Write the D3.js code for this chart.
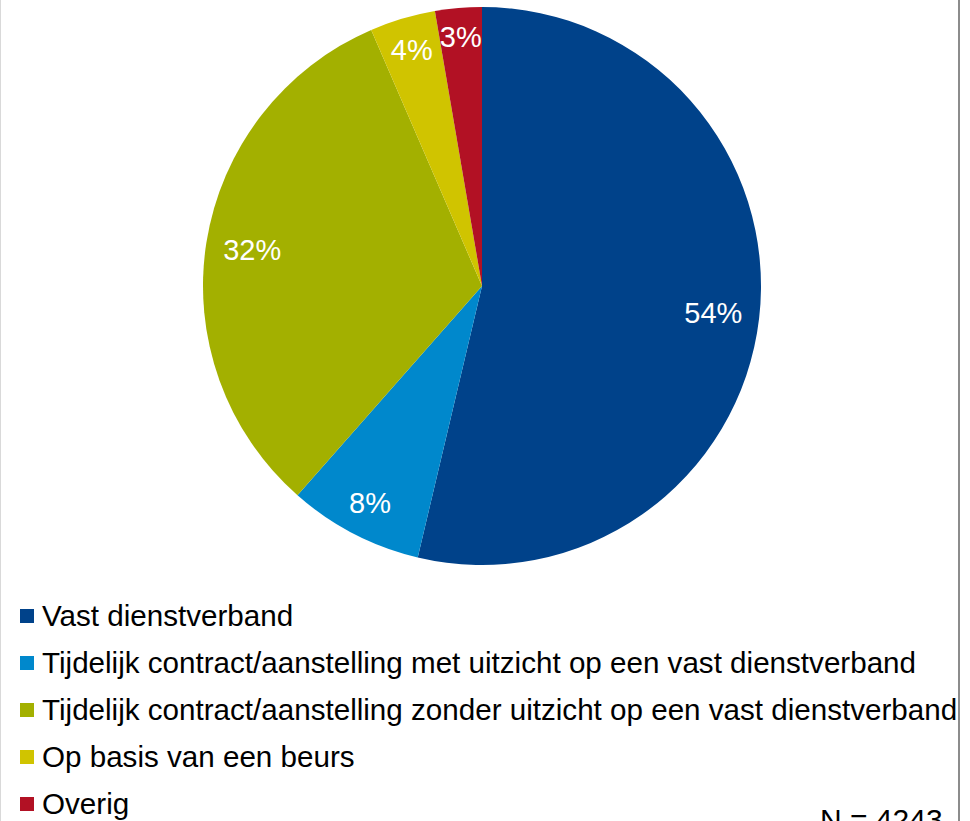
<html lang="nl">
<head>
  <meta charset="UTF-8" />
  <title>Type aanstelling</title>
  <style>
    body { margin: 0; background: #fff; }
    svg { display: block; font-family: "Liberation Sans", Arial, sans-serif; }
    .label { fill: #fff; font-size: 29px; }
    .legend text { fill: #000; font-size: 29.6px; }
  </style>
</head>
<body>
  <svg width="970" height="821"></svg>

  <script src="https://d3js.org/d3.v7.min.js"></script>
  <script>
    const categories = [
      "Vast dienstverband",
      "Tijdelijk contract/aanstelling met uitzicht op een vast dienstverband",
      "Tijdelijk contract/aanstelling zonder uitzicht op een vast dienstverband",
      "Op basis van een beurs",
      "Overig"
    ];
    const values = [53.7, 7.8, 32.0, 3.8, 2.7];
    const labels = ["54%", "8%", "32%", "4%", "3%"];
    const colors = ["#00428a", "#0088cc", "#a3b000", "#d0c400", "#b21124"];
    const note = "N = 4243";

    const svg = d3.select("svg");
    const width = +svg.attr("width");
    const height = +svg.attr("height");

    // frame lines at the edges
    svg.append("line")
      .attr("x1", 0.5).attr("x2", 0.5).attr("y1", 0).attr("y2", height)
      .attr("stroke", "#d9d9d9").attr("stroke-width", 1);
    svg.append("line")
      .attr("x1", 959).attr("x2", 959).attr("y1", 0).attr("y2", height)
      .attr("stroke", "#8c8c8c").attr("stroke-width", 2);

    const cx = 482, cy = 286, radius = 279;

    const pie = d3.pie().sort(null).value(d => d);
    const arcs = pie(values);

    const arc = d3.arc().innerRadius(0).outerRadius(radius);

    const g = svg.append("g").attr("transform", `translate(${cx},${cy})`);

    g.selectAll("path")
      .data(arcs)
      .join("path")
      .attr("d", arc)
      .attr("fill", (d, i) => colors[i]);

    // labels at "inside end": push the text box out until it nearly touches the rim
    const pad = 16, boxH = 22;
    g.selectAll("text")
      .data(arcs)
      .join("text")
      .attr("class", "label")
      .attr("text-anchor", "middle")
      .attr("dy", "0.35em")
      .text((d, i) => labels[i])
      .attr("transform", function(d) {
        const w = this.getComputedTextLength();
        const a = (d.startAngle + d.endAngle) / 2;
        const sx = Math.sin(a), cy2 = -Math.cos(a);
        const r = radius - pad - (w / 2 * Math.abs(sx) + boxH / 2 * Math.abs(cy2));
        return `translate(${r * sx},${r * cy2})`;
      });

    // legend
    const legend = svg.append("g").attr("class", "legend");
    const rowY = d3.scalePoint().domain(d3.range(categories.length)).range([616, 804]);

    const row = legend.selectAll("g")
      .data(categories)
      .join("g")
      .attr("transform", (d, i) => `translate(20,${rowY(i)})`);

    row.append("rect")
      .attr("x", 0).attr("y", -7)
      .attr("width", 14).attr("height", 14)
      .attr("fill", (d, i) => colors[i]);

    row.append("text")
      .attr("x", 22)
      .attr("dy", "0.35em")
      .text(d => d);

    svg.append("text")
      .attr("x", 820)
      .attr("y", 830)
      .attr("font-size", 30)
      .attr("fill", "#000")
      .text(note);
  </script>
</body>
</html>
